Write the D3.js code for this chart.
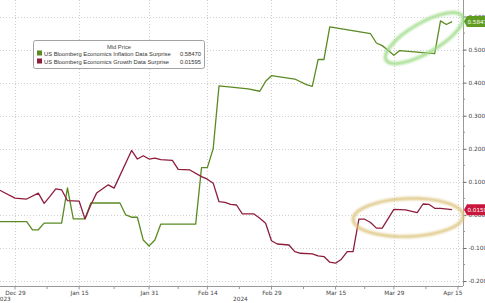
<!DOCTYPE html>
<html>
<head>
<meta charset="utf-8">
<script src="https://cdn.jsdelivr.net/npm/d3@7"></script>
<style>
  body { margin: 0; background: #fff; }
  svg { display: block; font-family: "DejaVu Sans", sans-serif; }
</style>
</head>
<body>
<svg id="chart" width="485" height="303"></svg>
<script>
// data
const inflationDates = ["2023-12-26","2024-01-02","2024-01-03","2024-01-04","2024-01-05","2024-01-10","2024-01-11","2024-01-12","2024-01-16","2024-01-17","2024-01-24","2024-01-25","2024-01-26","2024-01-29","2024-01-30","2024-01-31","2024-02-01","2024-02-02","2024-02-12","2024-02-13","2024-02-14","2024-02-15","2024-02-16","2024-02-23","2024-02-27","2024-02-28","2024-02-29","2024-03-06","2024-03-08","2024-03-11","2024-03-12","2024-03-13","2024-03-14","2024-03-25","2024-03-26","2024-03-27","2024-03-28","2024-03-29","2024-04-01","2024-04-09","2024-04-10","2024-04-11","2024-04-12"];
const inflationValues = [-0.020,-0.020,-0.045,-0.045,-0.025,-0.025,0.082,-0.012,-0.012,0.036,0.036,0.000,-0.007,-0.007,-0.076,-0.094,-0.076,-0.028,-0.028,0.143,0.143,0.200,0.390,0.381,0.374,0.404,0.421,0.411,0.394,0.389,0.470,0.470,0.569,0.548,0.520,0.512,0.498,0.483,0.497,0.488,0.587,0.576,0.58470];

const growthDates = ["2023-12-26","2023-12-29","2024-01-02","2024-01-04","2024-01-05","2024-01-08","2024-01-09","2024-01-10","2024-01-11","2024-01-15","2024-01-16","2024-01-17","2024-01-18","2024-01-22","2024-01-23","2024-01-26","2024-01-29","2024-01-30","2024-01-31","2024-02-01","2024-02-02","2024-02-06","2024-02-07","2024-02-09","2024-02-13","2024-02-14","2024-02-15","2024-02-16","2024-02-19","2024-02-20","2024-02-21","2024-02-22","2024-02-26","2024-02-27","2024-02-28","2024-02-29","2024-03-01","2024-03-05","2024-03-06","2024-03-07","2024-03-11","2024-03-12","2024-03-13","2024-03-14","2024-03-15","2024-03-18","2024-03-19","2024-03-20","2024-03-21","2024-03-22","2024-03-25","2024-03-26","2024-03-27","2024-03-29","2024-04-02","2024-04-04","2024-04-05","2024-04-08","2024-04-09","2024-04-10","2024-04-12"];
const growthValues = [0.078,0.051,0.048,0.066,0.035,0.056,0.079,0.076,0.043,0.042,-0.012,0.030,0.066,0.091,0.081,0.195,0.169,0.179,0.169,0.172,0.167,0.165,0.138,0.136,0.116,0.108,0.096,0.040,0.038,0.032,0.030,0.003,0.003,-0.010,-0.025,-0.078,-0.088,-0.091,-0.111,-0.116,-0.118,-0.124,-0.126,-0.143,-0.146,-0.134,-0.111,-0.111,-0.013,-0.013,-0.023,-0.040,-0.040,0.017,0.015,0.007,0.033,0.032,0.020,0.020,0.01595];

const tickDates = ["2023-12-29","2024-01-15","2024-01-31","2024-02-14","2024-02-29","2024-03-15","2024-03-29","2024-04-15"];
const tickLabels = ["Dec 29","Jan 15","Jan 31","Feb 14","Feb 29","Mar 15","Mar 29","Apr 15"];
const yTicks = [-0.2,-0.1,0,0.1,0.2,0.3,0.4,0.5,0.6];
const seriesNames = ["US Bloomberg Economics Inflation Data Surprise","US Bloomberg Economics Growth Data Surprise"];
const lastValues = ["0.58470","0.01595"];
const colors = ["#5a8a22","#8e1d3c"];
const badgeColors = ["#5f9c1f","#c8163c"];

const plotRight = 463, plotBottom = 286;

const parse = d3.timeParse("%Y-%m-%d");

// business-day index, Dec 29 = 0 (chart skips weekends)
const bizDays = d3.timeDays(new Date(2023, 11, 18), new Date(2024, 3, 22)).filter(d => d.getDay() % 6 !== 0);
const base = bizDays.findIndex(d => +d === +parse("2023-12-29"));
const biz = s => bizDays.findIndex(d => +d === +parse(s)) - base;

const x = d3.scaleLinear().domain([-2.573, 76.86]).range([0, plotRight]);
const y = d3.scaleLinear().domain([-0.215, 0.65]).range([plotBottom, 0]);

const svg = d3.select("#chart");

const defs = svg.append("defs");
const glow = defs.append("filter").attr("id", "glow").attr("x", "-20%").attr("y", "-40%").attr("width", "140%").attr("height", "180%");
glow.append("feGaussianBlur").attr("stdDeviation", 1.1);

svg.append("clipPath").attr("id", "clip").append("rect").attr("width", plotRight).attr("height", plotBottom);

// grid
const grid = svg.append("g").attr("stroke", "#c4c4c4").attr("stroke-dasharray", "1,2").attr("stroke-width", 0.8);
grid.selectAll(".hy").data(yTicks).join("line")
    .attr("x1", 0).attr("x2", plotRight)
    .attr("y1", d => Math.round(y(d)) + 0.5).attr("y2", d => Math.round(y(d)) + 0.5);
grid.selectAll(".vx").data(tickDates).join("line")
    .attr("x1", d => Math.round(x(biz(d))) + 0.5).attr("x2", d => Math.round(x(biz(d))) + 0.5)
    .attr("y1", 0).attr("y2", plotBottom);

// x axis
const tickIdx = tickDates.map(biz);
const xAxis = d3.axisBottom(x).tickValues(tickIdx).tickSize(0).tickPadding(4)
    .tickFormat((d, i) => tickLabels[i]);
const gx = svg.append("g").attr("transform", `translate(0,${plotBottom + 0.5})`).call(xAxis);
gx.select(".domain").attr("stroke", "#999").attr("d", `M0,0H${plotRight}`);
gx.selectAll("text").attr("font-size", 5.8).attr("fill", "#444").attr("font-family", "DejaVu Sans");
// last label is pulled inside the plot
gx.selectAll(".tick").filter((d, i) => i === tickIdx.length - 1).select("text")
    .attr("text-anchor", "end").attr("x", 462 - x(tickIdx[tickIdx.length - 1]));
const minor = d3.pairs(tickIdx).map(p => (p[0] + p[1]) / 2);
gx.selectAll(".minor").data(minor).join("line")
    .attr("x1", d => x(d)).attr("x2", d => x(d)).attr("y1", 0).attr("y2", 2.5).attr("stroke", "#999");
gx.selectAll(".major").data(tickIdx).join("line")
    .attr("x1", d => x(d)).attr("x2", d => x(d)).attr("y1", 0).attr("y2", 3).attr("stroke", "#999");

svg.append("text").attr("x", -4).attr("y", 301).attr("font-size", 5.8).attr("fill", "#444").text("2023");
svg.append("text").attr("x", 233).attr("y", 301).attr("font-size", 5.8).attr("fill", "#444").text("2024");

// y axis (right)
const yAxis = d3.axisRight(y).tickValues(yTicks).tickSize(3).tickPadding(2).tickFormat(d3.format(".4f"));
const gy = svg.append("g").attr("transform", `translate(${plotRight + 0.5},0)`).call(yAxis);
gy.select(".domain").attr("stroke", "#999").attr("d", `M0,0V${plotBottom}`);
gy.selectAll(".tick line").attr("stroke", "#666");
gy.selectAll("text").attr("font-size", 5.8).attr("fill", "#444").attr("font-family", "DejaVu Sans")
    .text(d => d3.format(".4f")(d).replace("−", "-"));
const yMinor = d3.range(-0.2, 0.65, 0.05).filter(v => Math.abs(Math.round(v * 10) - v * 10) > 0.01);
gy.selectAll(".yminor").data(yMinor).join("line")
    .attr("x1", 0).attr("x2", 1.5).attr("y1", d => y(d)).attr("y2", d => y(d)).attr("stroke", "#999");

// lines
const line = d3.line().x(d => x(d[0])).y(d => y(d[1]));
const series = [
  d3.zip(inflationDates.map(biz), inflationValues),
  d3.zip(growthDates.map(biz), growthValues)
];
svg.append("g").attr("clip-path", "url(#clip)")
  .selectAll("path").data(series).join("path")
    .attr("d", line).attr("fill", "none")
    .attr("stroke", (d, i) => colors[i]).attr("stroke-width", 1.3).attr("stroke-linejoin", "round");

// highlight ellipses
const lastG = series[0][series[0].length - 1];
const lastR = series[1][series[1].length - 1];
const ell = svg.append("g").attr("fill", "none");
ell.append("ellipse")
    .attr("transform", `translate(${x(lastG[0]) - 28},${y(0.535)}) rotate(-30)`)
    .attr("rx", 44).attr("ry", 15)
    .attr("stroke", "#9fdc88").attr("stroke-width", 3.2).attr("filter", "url(#glow)").attr("opacity", 0.95);
ell.append("ellipse")
    .attr("transform", `translate(${x(lastR[0]) - 44},${y(-0.008)}) rotate(-2)`)
    .attr("rx", 55).attr("ry", 19)
    .attr("stroke", "#dcc37c").attr("stroke-width", 3).attr("filter", "url(#glow)").attr("opacity", 0.95);

// last value badges
const badges = svg.append("g").selectAll("g").data([lastG[1], lastR[1]]).join("g")
    .attr("transform", d => `translate(${plotRight + 1},${y(d)})`);
badges.append("path")
    .attr("d", "M0,0L3,-5.5H40V5.5H3Z")
    .attr("fill", (d, i) => badgeColors[i]);
badges.append("text").attr("x", 3.5).attr("y", 2).attr("font-size", 5.6).attr("fill", "#fff")
    .text((d, i) => lastValues[i]);

// legend
const lg = svg.append("g").attr("transform", "translate(33,40)").attr("font-family", "Liberation Sans");
lg.append("rect").attr("x", 0.5).attr("y", 0.5).attr("width", 171).attr("height", 28).attr("rx", 2)
    .attr("fill", "#fff").attr("stroke", "#8a8a8a").attr("stroke-width", 0.8);
lg.append("text").attr("x", 86).attr("y", 8.5).attr("text-anchor", "middle").attr("font-size", 5.8).attr("fill", "#444").text("Mid Price");
const rows = lg.selectAll(".row").data(seriesNames).join("g").attr("transform", (d, i) => `translate(0,${15.5 + i * 8})`);
rows.append("rect").attr("x", 4).attr("y", -5).attr("width", 5).attr("height", 5).attr("fill", (d, i) => colors[i]);
rows.append("text").attr("x", 11).attr("y", 0).attr("font-size", 5.8).attr("fill", "#333").text(d => d);
rows.append("text").attr("x", 168).attr("y", 0).attr("text-anchor", "end").attr("font-size", 5.8).attr("fill", "#333")
    .text((d, i) => lastValues[i]);
</script>
</body>
</html>
